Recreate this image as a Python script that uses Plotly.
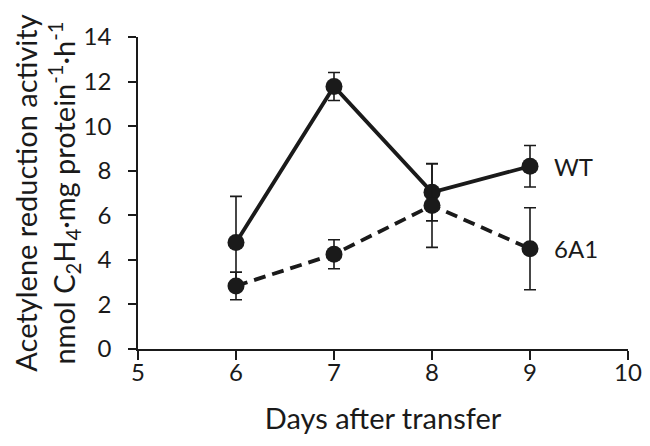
import plotly.graph_objects as go

days = [6, 7, 8, 9]
wt = [4.78, 11.78, 7.03, 8.2]
wt_err = [2.07, 0.63, 1.28, 0.93]
a61 = [2.83, 4.25, 6.44, 4.5]
a61_err = [0.62, 0.65, 1.88, 1.84]
labels = ["WT", "6A1"]

ink = "#1a1a1a"
font = "Lato"

fig = go.Figure()
fig.add_trace(go.Scatter(
    x=days, y=wt, mode="lines+markers", name="WT",
    line=dict(color=ink, width=3.8),
    marker=dict(color=ink, size=17),
    error_y=dict(type="data", array=wt_err, color=ink, thickness=1.6, width=6),
))
fig.add_trace(go.Scatter(
    x=days, y=a61, mode="lines+markers", name="6A1",
    line=dict(color=ink, width=3.8, dash="12px,7px"),
    marker=dict(color=ink, size=17),
    error_y=dict(type="data", array=a61_err, color=ink, thickness=1.6, width=6),
))

for lab, yv in zip(labels, [wt[-1], a61[-1]]):
    fig.add_annotation(x=days[-1], y=yv, text=lab, showarrow=False,
                       xanchor="left", xshift=22,
                       font=dict(family=font, size=24, color=ink))

fig.update_layout(
    width=650, height=446,
    margin=dict(l=130, r=30, t=29, b=105),
    paper_bgcolor="white", plot_bgcolor="white",
    showlegend=False,
    font=dict(family=font, size=24, color=ink),
)
fig.update_xaxes(
    range=[5, 10], tickvals=[5, 6, 7, 8, 9, 10],
    showline=True, linecolor=ink, linewidth=1.5,
    ticks="outside", ticklen=9, tickwidth=1.5, tickcolor=ink,
    ticklabelposition="outside", ticklabelstandoff=-8,
    showgrid=False, zeroline=False,
    title=dict(text="Days after transfer", standoff=24),
)
fig.update_yaxes(
    range=[0, 14], dtick=2,
    showline=True, linecolor=ink, linewidth=1.5,
    ticks="outside", ticklen=8, tickwidth=1.5, tickcolor=ink,
    ticklabelposition="outside", ticklabelstandoff=12,
    showgrid=False, zeroline=False,
    title=dict(text="Acetylene reduction activity<br>nmol C<sub>2</sub>H<sub>4</sub>·mg protein<sup>-1</sup>·h<sup>-1</sup>",
               standoff=6),
)

fig.write_html("out.html")
